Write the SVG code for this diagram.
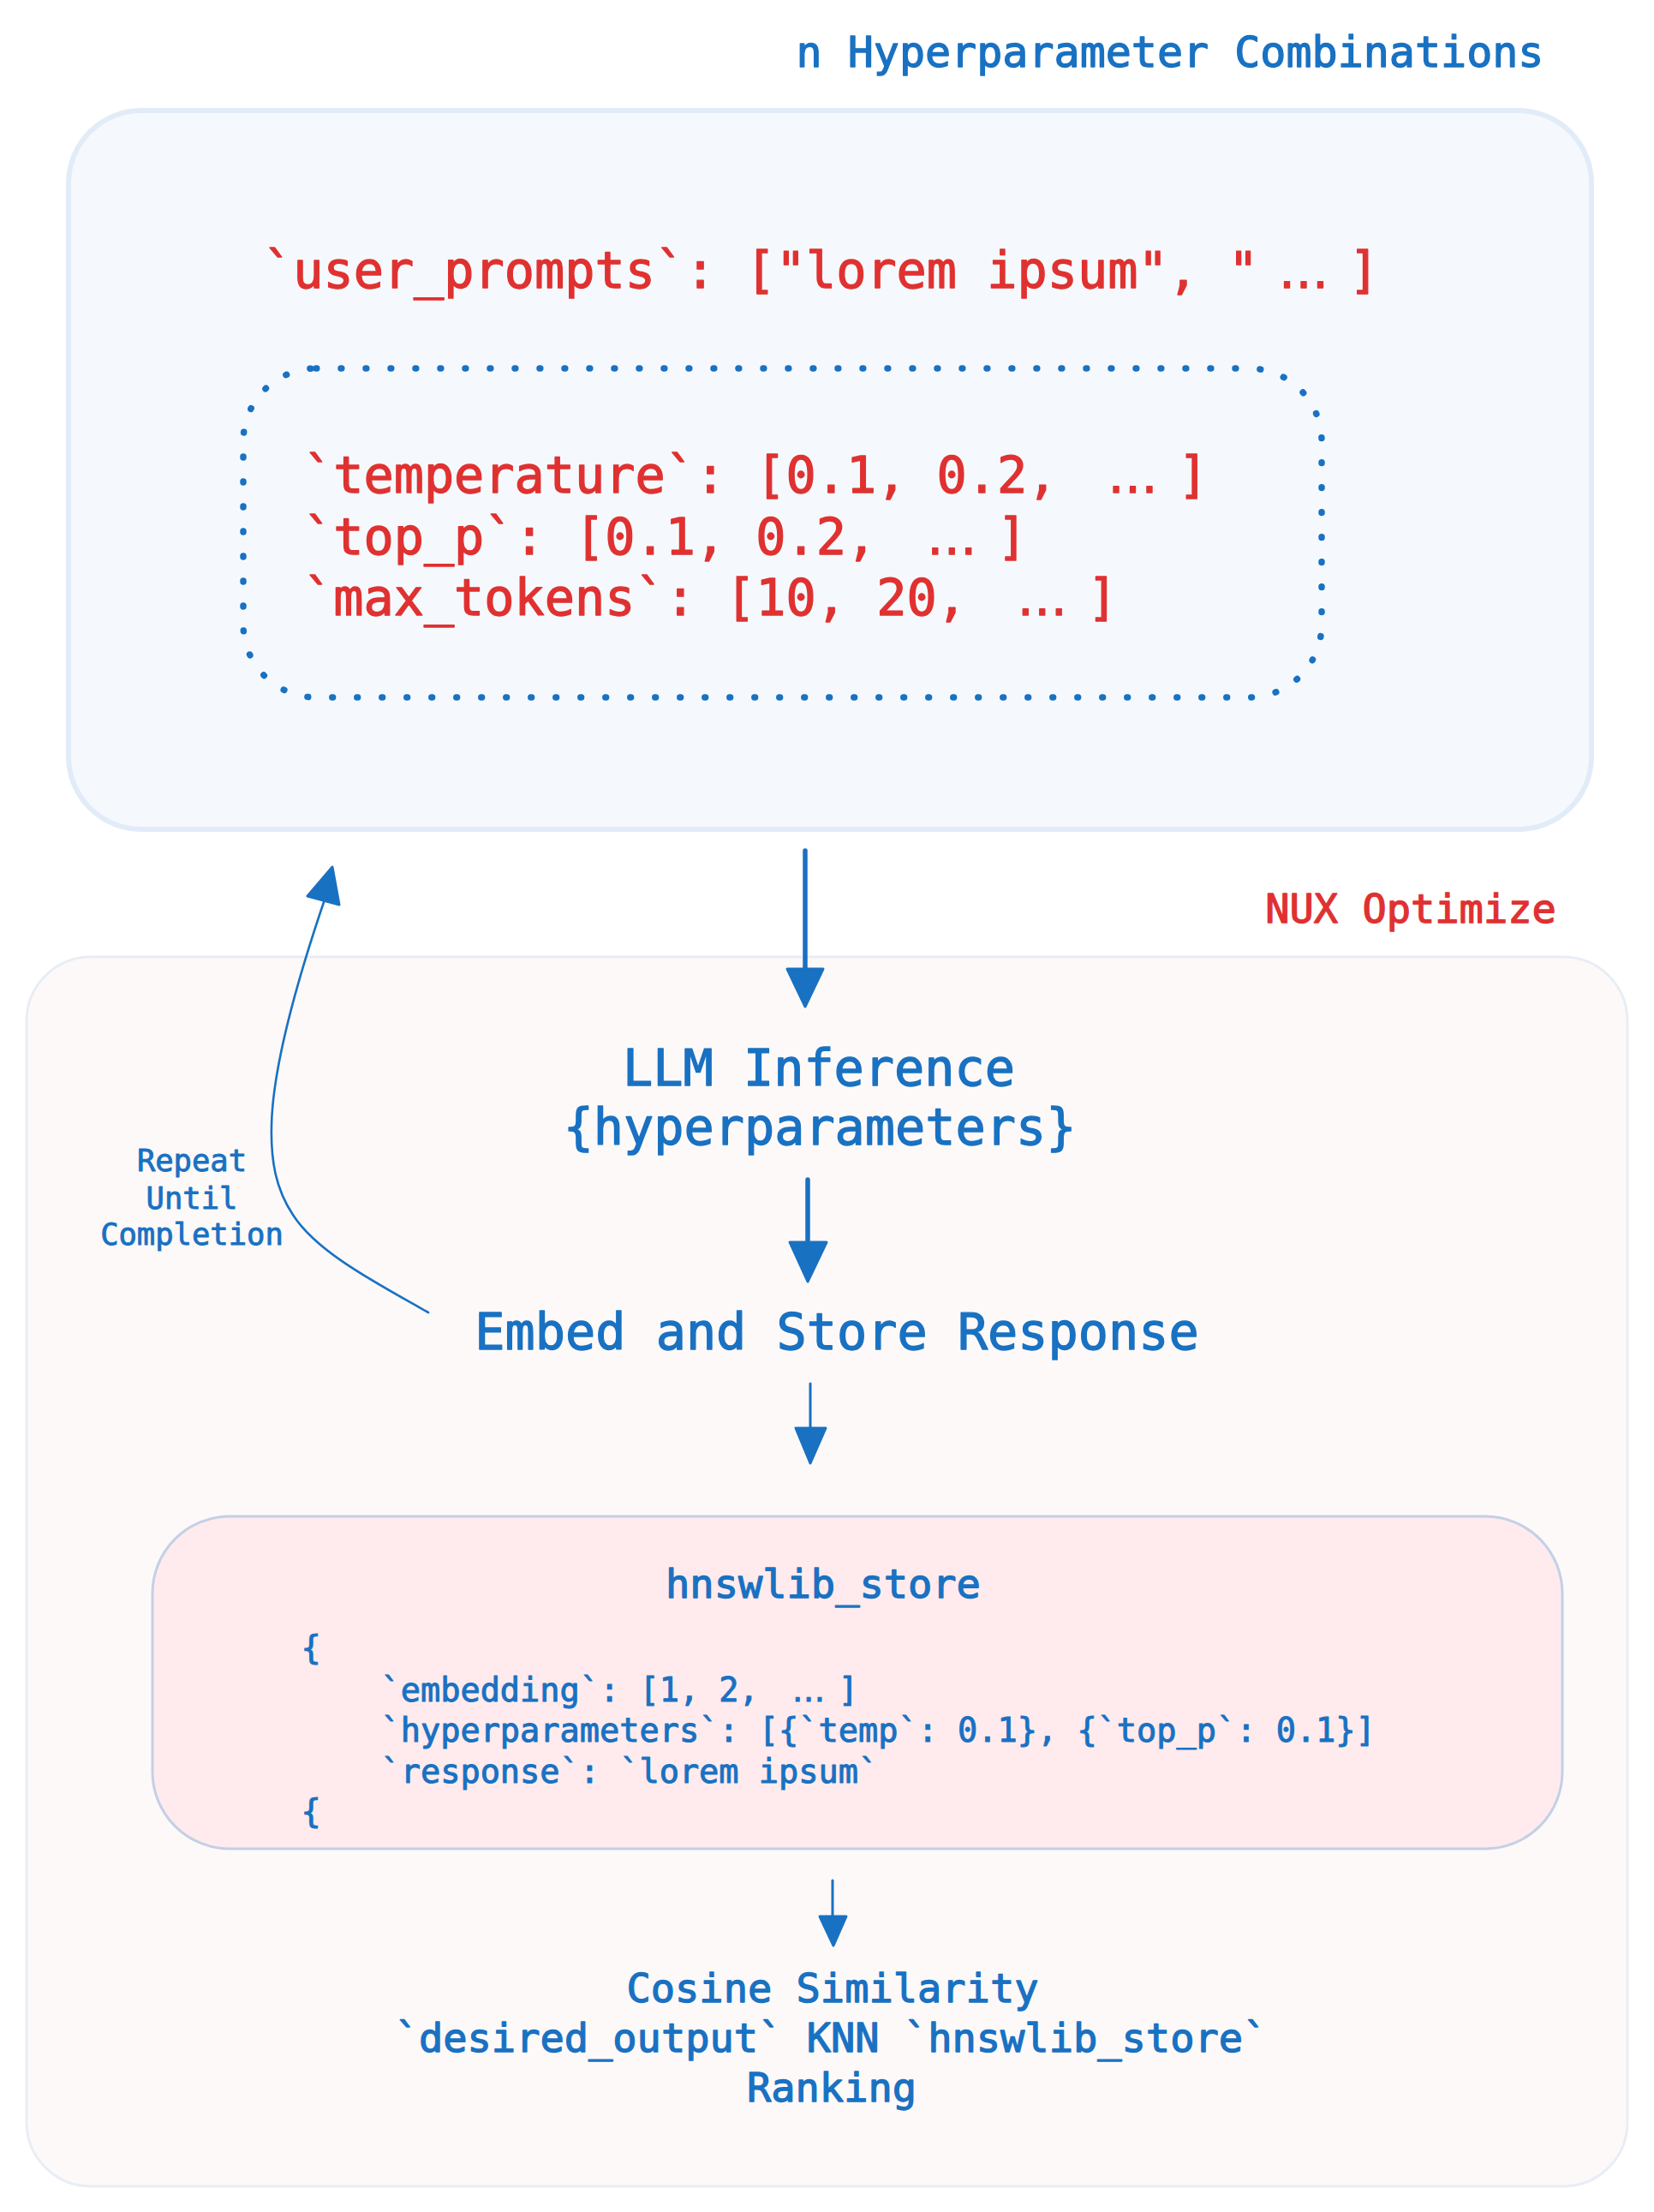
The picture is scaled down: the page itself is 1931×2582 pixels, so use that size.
<svg xmlns="http://www.w3.org/2000/svg" width="1931" height="2582" viewBox="0 0 1931 2582">
<style>
  text { font-family: "DejaVu Sans Mono", "Liberation Mono", monospace; stroke-width: 1.3px; stroke-linejoin: round; }
  .blue { fill: #1971c2; stroke: #1971c2; }
  .red { fill: #e03131; stroke: #e03131; }
  .big { font-size: 58.5px; }
  .mid { font-size: 47px; }
  .title { font-size: 50px; }
  .code { font-size: 38.6px; stroke-width: 1px; }
  .small { font-size: 35.5px; stroke-width: 0.9px; }
  .c { text-anchor: middle; }
  .ell { font-family: "DejaVu Sans", "Liberation Sans", sans-serif; }
  .line { stroke: #1971c2; fill: none; stroke-linecap: round; }
  .head { fill: #1971c2; stroke: #1971c2; stroke-linejoin: round; stroke-width: 3; }
</style>
<rect width="1931" height="2582" fill="#ffffff"/>

<g id="title">
  <text class="blue title c" x="1366" y="78">n Hyperparameter Combinations</text>
</g>

<g id="hyperparameter-box">
  <rect x="80" y="129" width="1778" height="839" rx="85" ry="85" fill="#f5f9fd" stroke="#e2ecf8" stroke-width="6"/>
  <text class="red big" x="307" y="336">`user_prompts`: ["lorem ipsum", "<tspan class="ell" dx="23.5">…</tspan><tspan dx="23.5">]</tspan></text>
</g>

<g id="hyperparameter-values">
  <rect x="284" y="430" width="1259" height="384" rx="85" ry="85" fill="none" stroke="#1971c2" stroke-width="7.5" stroke-linecap="round" stroke-dasharray="0.8 28.2"/>
  <text class="red big" x="354" y="575">`temperature`: [0.1, 0.2, <tspan class="ell" dx="23.5">…</tspan><tspan dx="23.5">]</tspan></text>
  <text class="red big" x="354" y="647">`top_p`: [0.1, 0.2, <tspan class="ell" dx="23.5">…</tspan><tspan dx="23.5">]</tspan></text>
  <text class="red big" x="354" y="718">`max_tokens`: [10, 20, <tspan class="ell" dx="23.5">…</tspan><tspan dx="23.5">]</tspan></text>
</g>

<g id="nux-optimize-label">
  <text class="red mid c" x="1647" y="1077">NUX Optimize</text>
</g>

<g id="nux-optimize-box">
  <rect x="31" y="1117" width="1869" height="1435" rx="75" ry="75" fill="#fdf9f9" stroke="#e8edf5" stroke-width="3"/>
</g>

<g id="llm-inference">
  <text class="blue big c" x="956" y="1267">LLM Inference</text>
  <text class="blue big c" x="957" y="1336">{hyperparameters}</text>
</g>

<g id="embed-store">
  <text class="blue big c" x="977" y="1575">Embed and Store Response</text>
</g>

<g id="hnswlib-store">
  <rect x="178" y="1770" width="1646" height="388" rx="90" ry="90" fill="#ffebed" stroke="#c3d0e6" stroke-width="3"/>
  <text class="blue mid c" x="961" y="1865">hnswlib_store</text>
  <text class="blue code" x="351.5" y="1937">{</text>
  <text class="blue code" x="444.5" y="1986">`embedding`: [1, 2, <tspan class="ell" dx="15.6">…</tspan><tspan dx="15.6">]</tspan></text>
  <text class="blue code" x="444.5" y="2033">`hyperparameters`: [{`temp`: 0.1}, {`top_p`: 0.1}]</text>
  <text class="blue code" x="444.5" y="2081">`response`: `lorem ipsum`</text>
  <text class="blue code" x="351.5" y="2128">{</text>
</g>

<g id="cosine-similarity">
  <text class="blue mid c" x="972" y="2337">Cosine Similarity</text>
  <text class="blue mid c" x="970" y="2395">`desired_output` KNN `hnswlib_store`</text>
  <text class="blue mid c" x="971" y="2453">Ranking</text>
</g>

<g id="connectors">
  <line class="line" x1="940" y1="993" x2="940" y2="1134" stroke-width="5.5"/>
  <polygon class="head" points="919,1131 961,1131 940,1175"/>

  <line class="line" x1="943" y1="1377" x2="943" y2="1452" stroke-width="5.5"/>
  <polygon class="head" points="922,1450 965,1450 943,1496"/>

  <line class="line" x1="946" y1="1615" x2="946" y2="1668" stroke-width="3"/>
  <polygon class="head" points="929,1667 964,1667 946,1708"/>

  <line class="line" x1="972" y1="2195" x2="972" y2="2238" stroke-width="3"/>
  <polygon class="head" points="957,2237 988,2237 973,2271"/>

  <path class="line" stroke-width="2.6" d="M 500 1532 C 440 1498, 370 1462, 342 1418 C 322 1388, 316 1355, 317 1314 C 318 1260, 335 1180, 378 1053"/>
  <polygon class="head" points="388,1012 359,1046 396,1056"/>
  <text class="blue small c" x="224" y="1367">Repeat</text>
  <text class="blue small c" x="224" y="1411">Until</text>
  <text class="blue small c" x="224" y="1453">Completion</text>
</g>
</svg>
